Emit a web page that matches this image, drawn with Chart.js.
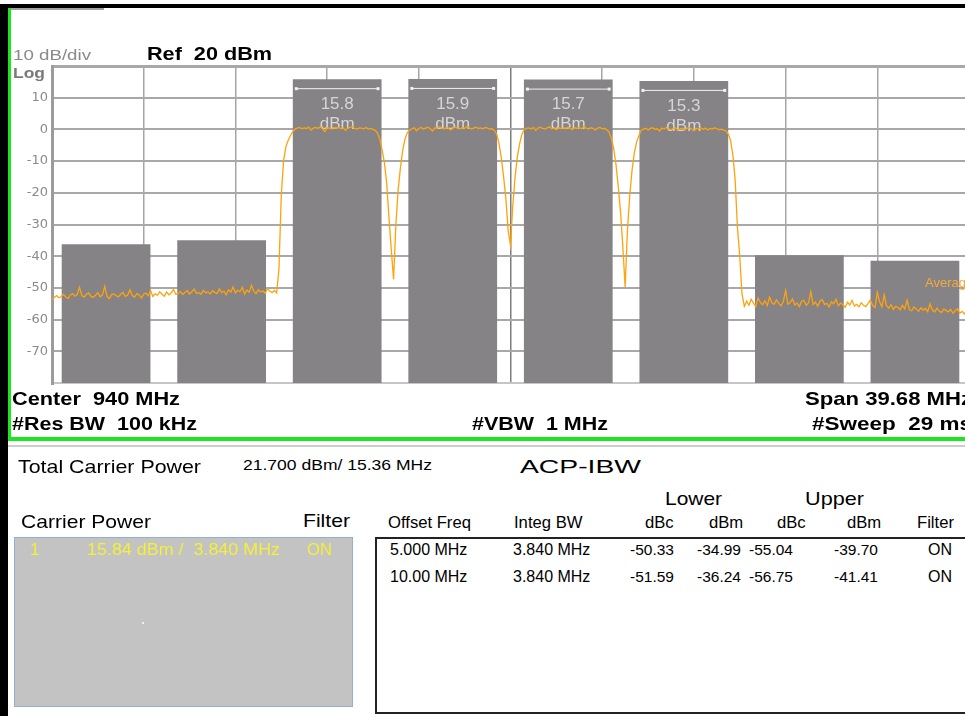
<!DOCTYPE html>
<html>
<head>
<meta charset="utf-8">
<script src="https://cdn.jsdelivr.net/npm/chart.js@4.4.1/dist/chart.umd.min.js"></script>
<style>
  html, body { margin: 0; padding: 0; background: #fff; }
  body { width: 965px; height: 716px; overflow: hidden; position: relative;
         font-family: "Liberation Sans", Arial, sans-serif; }
  #grafico { position: absolute; left: 0; top: 0; }
  .txt { position: absolute; white-space: pre; line-height: 1; }
  .box { position: absolute; box-sizing: border-box; }
</style>
</head>
<body>
<canvas id="grafico" width="990" height="440"></canvas>
<div id="camada"></div>
<script>
// ================= DATA =================
const centerFreq = 940;       // MHz
const spanMHz = 39.68;
const refLevel = 20;          // dBm, top of screen
const dbPerDiv = 10;
const yTicks = [20, 10, 0, -10, -20, -30, -40, -50, -60, -70, -80];

// carriers (4 x WCDMA, 3.84 MHz integration bw)
const carrierFreq = [932.5, 937.5, 942.5, 947.5];
const carrierPower = [15.84, 15.92, 15.71, 15.30];
const integBwMHz = 3.84;
const totalPower = 21.700;
const totalBw = "15.36";

// ACP table
const offsetMHz = [5, 10];
const offsetFreq = ["5.000 MHz", "10.00 MHz"];
const integBw = ["3.840 MHz", "3.840 MHz"];
const lowerDbc = [-50.33, -51.59];
const lowerDbm = [-34.99, -36.24];
const upperDbc = [-55.04, -56.75];
const upperDbm = [-39.70, -41.41];
const filterState = ["ON", "ON"];

// average trace, 401 sweep points (dBm)
const avgTrace = [
  -53.6, -53.0, -52.4, -53.1, -52.8, -52.0, -52.9, -53.3, -52.2, -51.8,
  -52.6, -52.1, -49.8, -52.4, -52.9, -52.0, -51.6, -52.7, -53.0, -52.3,
  -51.5, -52.8, -52.2, -49.5, -52.6, -53.4, -52.1, -51.9, -52.5, -52.8,
  -52.0, -51.4, -52.7, -52.3, -50.6, -52.4, -52.9, -51.8, -52.2, -53.2,
  -52.0, -51.6, -52.5, -50.8, -52.7, -51.9, -52.3, -51.2, -52.0, -52.6,
  -51.3, -52.2, -51.6, -50.5, -52.0, -51.8, -51.1, -52.1, -51.4, -50.9,
  -51.9, -51.2, -50.4, -51.7, -51.5, -52.0, -50.8, -51.6, -51.3, -51.9,
  -50.9, -51.4, -51.8, -50.3, -51.5, -51.0, -52.2, -50.6, -51.3, -49.7,
  -51.6, -50.8, -51.2, -49.8, -51.9, -50.7, -51.4, -49.2, -51.0, -51.8,
  -50.6, -51.3, -50.9, -51.7, -50.2, -51.0, -51.5, -50.8, -51.6, -44.0,
  -21.0, -10.0, -5.5, -3.5, -2.0, -0.8, 0.1, 0.4, 0.6, 0.2,
  0.5, 0.3, 0.7, -0.2, 0.4, 0.6, 0.3, 0.8, 0.2, -0.7,
  0.5, 0.4, 0.1, 0.6, 0.3, 0.7, 0.2, 0.5, -0.3, 0.4,
  0.6, 0.9, 0.3, 0.1, 0.5, 0.4, 0.2, 0.6, 0.1, 0.3,
  0.0, -0.3, -1.2, -3.0, -6.5, -10.5, -17.0, -28.0, -38.0, -47.3,
  -30.0, -19.0, -12.0, -6.5, -3.0, -1.0, -0.3, 0.2, 0.5, -0.4,
  0.3, 0.6, 0.1, 0.4, 0.7, 0.2, -0.5, 0.5, 0.3, 0.8,
  0.4, 0.1, 0.6, 0.3, -0.2, 0.5, 0.7, 0.4, 0.2, 0.6,
  0.3, 0.9, 0.5, 0.1, 0.4, 0.7, 0.3, 0.5, 0.2, 0.6,
  0.4, 0.1, 0.2, -0.4, -1.5, -4.5, -9.0, -15.0, -22.0, -32.0,
  -36.6, -24.0, -15.0, -8.5, -4.5, -1.5, 0.0, 0.3, 0.5, 0.2,
  0.6, -0.3, 0.4, 0.7, 0.3, 0.1, 0.5, 0.8, 0.2, 0.4,
  -0.1, 0.6, 0.3, 0.5, 0.2, 0.7, 0.4, 0.0, 0.5, 0.3,
  0.6, 0.2, 0.8, 0.4, 0.1, 0.5, 0.3, -0.2, 0.4, 0.6,
  0.2, 0.3, -0.1, -0.8, -2.8, -6.0, -11.0, -18.0, -26.0, -37.0,
  -49.7, -32.0, -21.0, -13.0, -7.5, -4.0, -2.0, -0.3, 0.1, 0.4,
  -0.2, 0.3, 0.5, 0.0, 0.2, -0.5, 0.4, 0.1, 0.6, 0.2,
  -0.1, 0.3, 0.5, -0.3, 0.2, 0.4, 0.0, 0.3, 0.6, 0.1,
  -0.4, 0.3, 0.2, 0.5, 0.0, 0.4, -0.2, 0.3, 0.1, 0.5,
  0.2, -0.1, 0.1, -0.2, -0.5, -1.5, -3.5, -8.0, -16.0, -31.0,
  -40.0, -52.0, -55.8, -54.2, -55.5, -53.6, -54.8, -55.9, -53.2, -54.6,
  -55.3, -54.0, -55.6, -52.9, -54.7, -55.2, -53.8, -54.9, -55.7, -54.3,
  -50.8, -55.1, -54.6, -53.5, -55.4, -54.8, -55.9, -54.2, -53.9, -55.5,
  -54.7, -51.2, -55.3, -54.5, -55.8, -54.1, -53.7, -55.2, -54.9, -56.0,
  -54.4, -55.0, -53.6, -55.6, -54.8, -55.3, -56.1, -54.5, -55.4, -53.9,
  -55.7, -55.2, -56.0, -54.7, -55.5, -55.9, -54.9, -53.8, -55.6, -56.2,
  -51.4, -54.4, -56.0, -52.2, -55.6, -56.4, -55.3, -56.8, -55.8, -56.1,
  -56.9, -55.5, -56.6, -53.9, -56.8, -57.2, -56.0, -56.7, -57.4, -56.3,
  -57.0, -56.5, -57.5, -55.0, -56.9, -57.6, -56.4, -57.3, -57.8, -56.7,
  -57.1, -57.6, -56.8, -58.0, -57.2, -56.6, -57.9, -57.4, -58.2, -57.0,
  -57.7
];

// =================================================

const startFreq = centerFreq - spanMHz / 2;
const stopFreq = centerFreq + spanMHz / 2;
const bottomLevel = refLevel - 10 * dbPerDiv;
const mhzPerDiv = spanMHz / 10;

// bands: lower adjacent (far, near), carriers, upper adjacent (near, far)
const bandFreq = [
  carrierFreq[0] - offsetMHz[1], carrierFreq[0] - offsetMHz[0],
  ...carrierFreq,
  carrierFreq[3] + offsetMHz[0], carrierFreq[3] + offsetMHz[1]
];
const bandPower = [lowerDbm[1], lowerDbm[0], ...carrierPower, upperDbm[0], upperDbm[1]];
const isCarrier = bandFreq.map((f, i) => i >= 2 && i <= 5);

const xDivs = [];
for (let k = 0; k <= 10; k++) xDivs.push(startFreq + k * mhzPerDiv);

const tracePoints = avgTrace.map((v, i) => ({
  x: startFreq + i * spanMHz / (avgTrace.length - 1),
  y: v
}));

// ================= BAR LABELS =================
const bandLabels = {
  id: "bandLabels",
  afterDatasetDraw(chart, args) {
    if (args.meta.type !== "bar") return;
    const c = chart.ctx;
    args.meta.data.forEach((bar, i) => {
      if (!isCarrier[i]) return;
      const half = bar.width / 2;
      const top = Math.min(bar.y, bar.base);
      c.save();
      c.strokeStyle = "#f2f2f2";
      c.lineWidth = 1;
      c.beginPath();
      c.moveTo(bar.x - half + 3, top + 9.5);
      c.lineTo(bar.x + half - 3, top + 9.5);
      c.stroke();
      c.fillStyle = "#f2f2f2";
      c.fillRect(bar.x - half + 2, top + 8, 3, 3);
      c.fillRect(bar.x + half - 5, top + 8, 3, 3);
      c.fillStyle = "#d6d6d6";
      c.font = '17px "Liberation Sans", Arial';
      c.textAlign = "center";
      c.textBaseline = "middle";
      c.fillText(bandPower[i].toFixed(1), bar.x, top + 25);
      c.fillText("dBm", bar.x, top + 45);
      c.restore();
    });
  }
};

// ================= CHART =================
const ctx = document.getElementById("grafico").getContext("2d");

new Chart(ctx, {
  type: "bar",
  data: {
    datasets: [
      {
        type: "line",
        label: "Average",
        data: tracePoints,
        borderColor: "#ffa20c",
        borderWidth: 1.3,
        pointRadius: 0,
        tension: 0,
        fill: false,
        order: 0
      },
      {
        type: "bar",
        label: "Band power",
        data: bandFreq.map((f, i) => ({ x: f, y: [bottomLevel, bandPower[i]] })),
        backgroundColor: "#858385",
        borderWidth: 0,
        // bar width follows the grid division (Chart.js ruler uses the tick spacing)
        barPercentage: integBwMHz / mhzPerDiv,
        categoryPercentage: 1,
        grouped: false,
        order: 1
      }
    ]
  },
  options: {
    responsive: false,
    animation: false,
    devicePixelRatio: 1,
    layout: { padding: { left: 0, top: 66, right: 21, bottom: 57 } },
    plugins: { legend: { display: false }, tooltip: { enabled: false } },
    scales: {
      x: {
        type: "linear",
        min: startFreq,
        max: stopFreq,
        offset: false,
        ticks: { display: false },
        grid: {
          offset: false,
          drawTicks: false,
          lineWidth: 1.5,
          color: c => Math.abs(c.tick.value - centerFreq) < 1e-6 ? "#7c7c7c" : "#a6a6a6"
        },
        border: { color: "#c6c6c6", width: 2 },
        afterBuildTicks: s => { s.ticks = xDivs.map(v => ({ value: v })); },
        afterFit: s => { s.height = 0; }
      },
      y: {
        min: bottomLevel,
        max: refLevel,
        afterBuildTicks: s => { s.ticks = yTicks.map(v => ({ value: v })); },
        ticks: {
          padding: 4,
          color: "#8a8a8a",
          font: { family: "DejaVu Sans", size: 13 },
          callback: v => (v === refLevel || v === bottomLevel) ? "" : v
        },
        grid: {
          drawTicks: false,
          lineWidth: c => c.tick.value === refLevel ? 3 : 2,
          color: c => c.tick.value === bottomLevel ? "#cccccc" : "#a8a8a8"
        },
        border: { color: "#9c9c9c", width: 3 },
        afterFit: s => { s.width = 52; }
      }
    }
  },
  plugins: [bandLabels]
});

// ================= FRAME AND TEXT =================
const camada = document.getElementById("camada");
const STRETCH = 1.08;

function addBox(x, y, w, h, css) {
  const el = document.createElement("div");
  el.className = "box";
  el.style.left = x + "px";
  el.style.top = y + "px";
  el.style.width = w + "px";
  el.style.height = h + "px";
  Object.assign(el.style, css);
  camada.appendChild(el);
}

function addText(text, x, cy, size, opts = {}) {
  const el = document.createElement("div");
  el.className = "txt";
  el.textContent = text;
  el.style.fontSize = size + "px";
  el.style.fontWeight = opts.bold ? "bold" : "normal";
  el.style.color = opts.color || "#000";
  el.style.left = x + "px";
  el.style.top = (cy - 0.49 * size) + "px";
  camada.appendChild(el);
  const natural = el.getBoundingClientRect().width;
  const k = opts.x1 ? (opts.x1 - x) / natural : (opts.k || STRETCH);
  el.style.transformOrigin = "0 50%";
  el.style.transform = "scaleX(" + k + ")";
}

// frame
addBox(0, 4, 8, 712, { background: "#000" });
addBox(0, 4, 965, 4, { background: "#000" });
addBox(8, 8, 96, 2, { background: "#a0a0a0" });
addBox(8, 8, 3, 433, { background: "#1ee61e" });
addBox(8, 437, 957, 4, { background: "#1ee61e" });
addBox(8, 445, 957, 2, { background: "#cdcdcd" });

// header of the trace
addText("10 dB/div", 13, 54.5, 15, { color: "#8a8a8a", x1: 91 });
addText("Log", 13, 73.3, 14, { color: "#7a7a7a", bold: true, x1: 45 });
addText("Ref  " + refLevel + " dBm", 147, 53.7, 19, { bold: true, x1: 272 });
addText("Average", 925, 282, 13, { color: "#f5ab3a", k: 1 });

// footer of the trace
addText("Center  " + centerFreq + " MHz", 12, 398, 19, { bold: true, x1: 180 });
addText("Span " + spanMHz.toFixed(2) + " MHz", 805, 398, 19, { bold: true, x1: 972 });
addText("#Res BW  100 kHz", 12, 423, 19, { bold: true, x1: 197 });
addText("#VBW  1 MHz", 472, 423, 19, { bold: true, x1: 608 });
addText("#Sweep  29 ms", 812, 423, 19, { bold: true, x1: 972 });

// lower panel
addText("Total Carrier Power", 18, 466, 19, { x1: 201 });
addText(totalPower.toFixed(3) + " dBm/ " + totalBw + " MHz", 243, 464, 15, { x1: 432 });
addText("ACP-IBW", 520, 466, 19, { x1: 641 });
addText("Lower", 665, 498, 19, { x1: 722 });
addText("Upper", 805, 498, 19, { x1: 864 });
addText("Carrier Power", 21, 521, 19, { x1: 151 });
addText("Filter", 303, 520, 19, { x1: 350 });

// carrier list
addBox(14, 537, 339, 170, { background: "#c3c3c3", border: "1px solid #8fb1d3" });
addBox(142, 622, 2, 2, { background: "#eeeeee" });
addText("1", 30, 550, 16, { color: "#f4ef3a" });
addText(carrierPower[0].toFixed(2) + " dBm /  " + integBwMHz.toFixed(3) + " MHz", 87, 550, 16, { color: "#f4ef3a", x1: 280 });
addText("ON", 307, 550, 16, { color: "#f4ef3a", x1: 332 });

// ACP table
addBox(375, 537, 620, 177, { border: "2px solid #222" });
const headCols = [["Offset Freq", 388], ["Integ BW", 514], ["dBc", 645], ["dBm", 709],
                  ["dBc", 777], ["dBm", 847], ["Filter", 917]];
headCols.forEach(([t, x]) => addText(t, x, 523, 16, { k: 1.04 }));

const cellX = [390, 513, 630, 697, 749, 834, 928];
const rowY = [550, 577];
offsetFreq.forEach((f, r) => {
  const row = [f, integBw[r], lowerDbc[r].toFixed(2), lowerDbm[r].toFixed(2),
               upperDbc[r].toFixed(2), upperDbm[r].toFixed(2), filterState[r]];
  row.forEach((t, c) => addText(t, cellX[c], rowY[r], c < 2 || c === 6 ? 16 : 15.5, { k: 1 }));
});
</script>
</body>
</html>
